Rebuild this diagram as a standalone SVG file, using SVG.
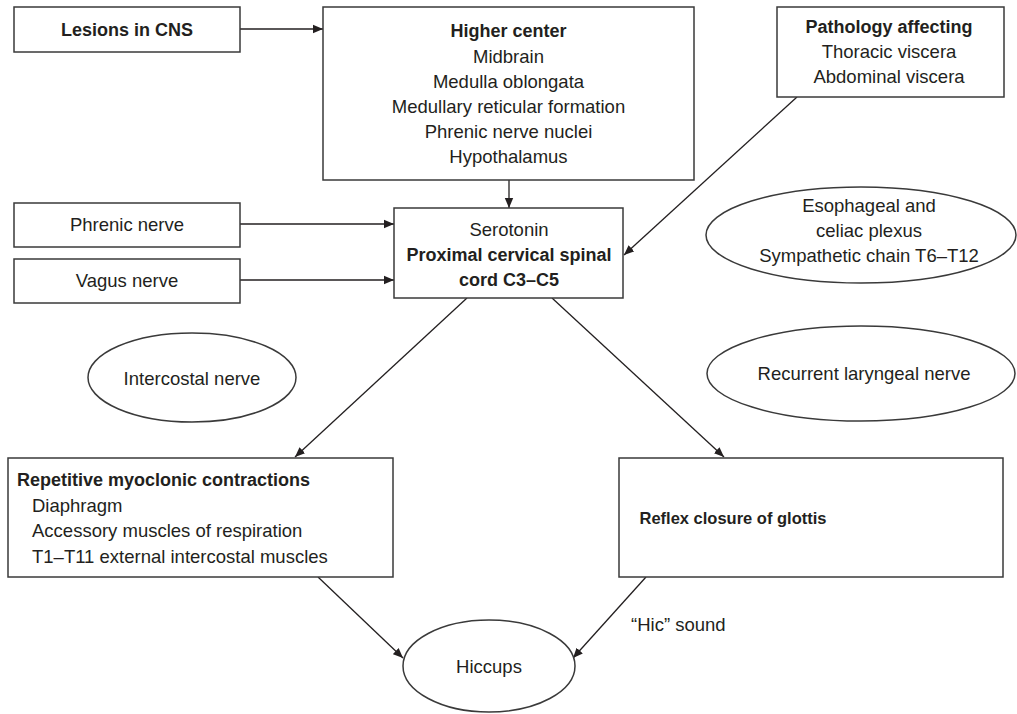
<svg xmlns="http://www.w3.org/2000/svg" width="1017" height="714" viewBox="0 0 1017 714">
<style>
.box{fill:#fff;stroke:#3a3a3a;stroke-width:1.5}
.t{font-family:"Liberation Sans",Arial,sans-serif;font-size:18.5px;fill:#231f20}
.c{text-anchor:middle}
.b{font-weight:bold;font-size:18px}
.ln{stroke:#231f20;stroke-width:1.3;fill:none;marker-end:url(#ah)}
</style>
<defs>
<marker id="ah" viewBox="0 0 10 10" refX="10" refY="5" markerWidth="10" markerHeight="10" markerUnits="userSpaceOnUse" orient="auto">
<path d="M0,0.8 L10,5 L0,9.2 Z" fill="#231f20"/>
</marker>
</defs>
<rect width="1017" height="714" fill="#fff"/>
<g id="connectors">
<line class="ln" x1="240" y1="29" x2="323" y2="29"/>
<line class="ln" x1="509" y1="180" x2="509" y2="208"/>
<line class="ln" x1="240" y1="224" x2="394" y2="224"/>
<line class="ln" x1="240" y1="280" x2="394" y2="280"/>
<line class="ln" x1="797" y1="97" x2="624" y2="255"/>
<line class="ln" x1="467" y1="298" x2="295" y2="457"/>
<line class="ln" x1="552" y1="298" x2="724" y2="457"/>
<line class="ln" x1="318" y1="577" x2="403" y2="658"/>
<line class="ln" x1="646" y1="577" x2="573" y2="658"/>
</g>
<g id="lesions">
<rect class="box" x="14" y="7" width="226" height="45"/>
<text class="t c b" x="127" y="36">Lesions in CNS</text>
</g>
<g id="higher">
<rect class="box" x="323" y="7" width="371" height="173"/>
<text class="t c b" x="508.5" y="37">Higher center</text>
<text class="t c" x="508.5" y="62.5">Midbrain</text>
<text class="t c" x="508.5" y="87.5">Medulla oblongata</text>
<text class="t c" x="508.5" y="112.5">Medullary reticular formation</text>
<text class="t c" x="508.5" y="137.5">Phrenic nerve nuclei</text>
<text class="t c" x="508.5" y="163">Hypothalamus</text>
</g>
<g id="pathology">
<rect class="box" x="777" y="7" width="227" height="90"/>
<text class="t c b" x="889" y="33">Pathology affecting</text>
<text class="t c" x="889" y="58">Thoracic viscera</text>
<text class="t c" x="889" y="83">Abdominal viscera</text>
</g>
<g id="phrenic">
<rect class="box" x="14" y="203" width="226" height="44"/>
<text class="t c" x="127" y="231">Phrenic nerve</text>
</g>
<g id="vagus">
<rect class="box" x="14" y="259" width="226" height="44"/>
<text class="t c" x="127" y="287">Vagus nerve</text>
</g>
<g id="serotonin">
<rect class="box" x="394" y="208" width="229" height="90"/>
<text class="t c" x="509" y="236">Serotonin</text>
<text class="t c b" x="509" y="261">Proximal cervical spinal</text>
<text class="t c b" x="509" y="286">cord C3–C5</text>
</g>
<g id="esophageal">
<ellipse class="box" cx="861" cy="235" rx="155" ry="48"/>
<text class="t c" x="869" y="212">Esophageal and</text>
<text class="t c" x="869" y="237">celiac plexus</text>
<text class="t c" x="869" y="262">Sympathetic chain T6–T12</text>
</g>
<g id="intercostal">
<ellipse class="box" cx="192" cy="377.5" rx="104" ry="44.5"/>
<text class="t c" x="192" y="385">Intercostal nerve</text>
</g>
<g id="recurrent">
<ellipse class="box" cx="861" cy="373.5" rx="154" ry="47.5"/>
<text class="t c" x="864" y="380">Recurrent laryngeal nerve</text>
</g>
<g id="repetitive">
<rect class="box" x="8" y="458" width="385" height="119"/>
<text class="t b" x="17" y="486">Repetitive myoclonic contractions</text>
<text class="t" x="32" y="512">Diaphragm</text>
<text class="t" x="32" y="537">Accessory muscles of respiration</text>
<text class="t" x="32" y="563">T1–T11 external intercostal muscles</text>
</g>
<g id="reflex">
<rect class="box" x="619" y="458" width="384" height="119"/>
<text class="t c b" x="733" y="524" style="font-size:16.5px">Reflex closure of glottis</text>
</g>
<g id="hiccups">
<ellipse class="box" cx="489" cy="666" rx="86" ry="46"/>
<text class="t c" x="489" y="673">Hiccups</text>
</g>
<g id="label">
<text class="t" x="631" y="631">“Hic” sound</text>
</g>
</svg>
